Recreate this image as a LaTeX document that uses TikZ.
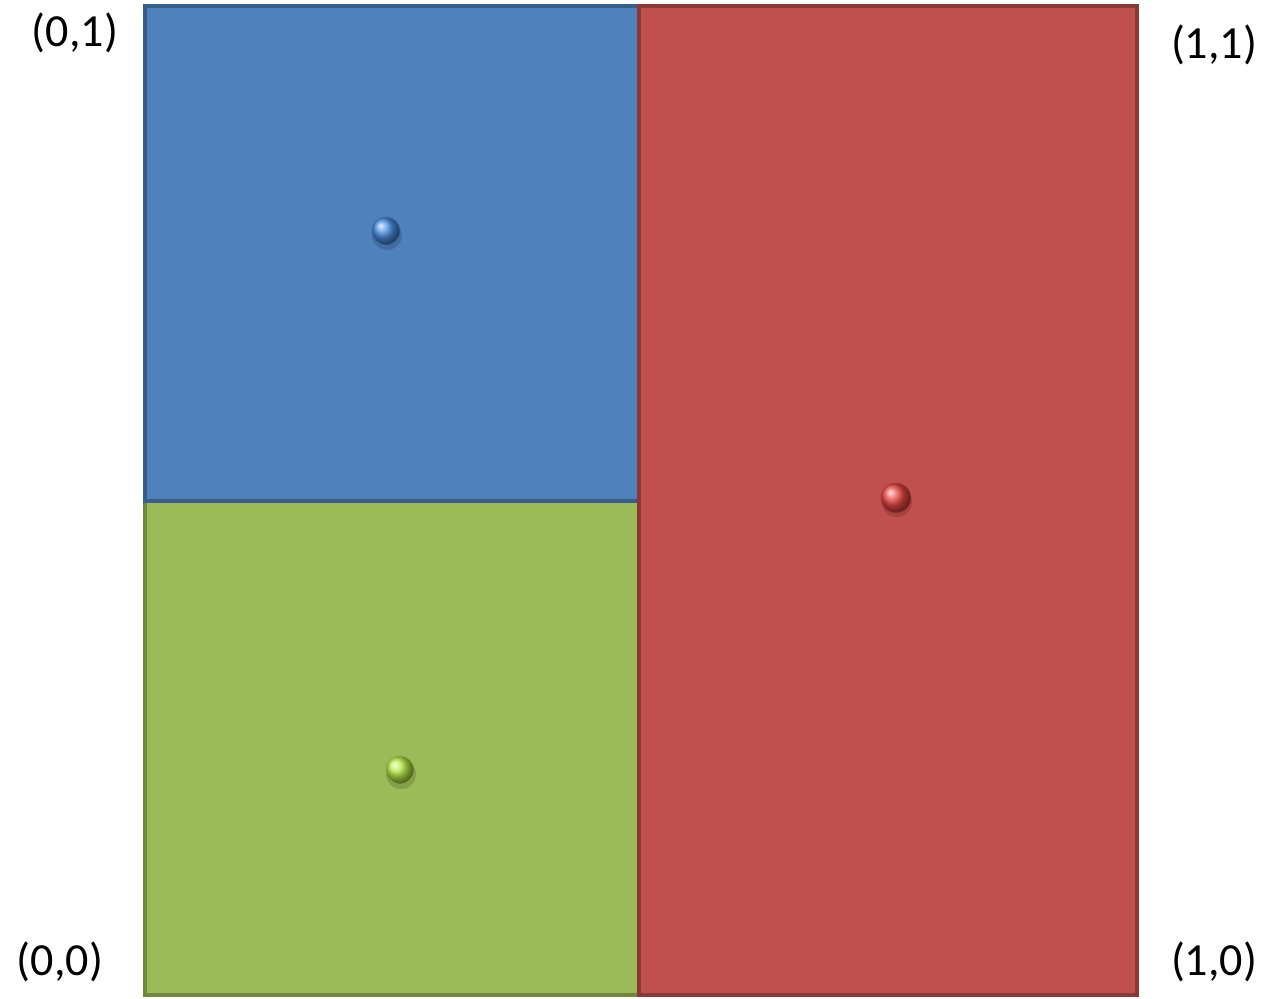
\documentclass[tikz,border=0pt]{standalone}
\usepackage{fontspec}
\setmainfont{Carlito}
\usetikzlibrary{shadings}
\definecolor{bluefill}{HTML}{4F81BD}
\definecolor{blueline}{HTML}{385D8A}
\definecolor{redfill}{HTML}{C0504D}
\definecolor{redline}{HTML}{8C3836}
\definecolor{greenfill}{HTML}{9BBB59}
\definecolor{greenline}{HTML}{71893F}
\definecolor{blueball}{HTML}{4C92E6}
\definecolor{redball}{HTML}{EE4A44}
\definecolor{greenball}{HTML}{B8EC48}
\begin{document}
\begin{tikzpicture}[x=0.5pt,y=-0.5pt,
  region/.style={draw=#1line, fill=#1fill, line width=2pt, inner sep=0pt, outer sep=0pt},
  lbl/.style={font=\fontsize{23}{27}\selectfont, inner sep=0pt, text=black},
  ballshadow/.style={circle, minimum size=15pt, inner sep=0pt, fill=black, fill opacity=0.15},
  ball/.style={circle, minimum size=14pt, inner sep=0pt, ball color=#1, draw=#1!75!black, line width=0.3pt}]
\useasboundingbox (0,0) rectangle (1270,998);
\node[region=green, minimum width=247pt, minimum height=247pt, anchor=north west] (green) at (145,501) {};
\node[region=blue, minimum width=247pt, minimum height=247.5pt, anchor=north west] (blue) at (145,6) {};
\node[region=red, minimum width=249pt, minimum height=494.5pt, anchor=north west] (red) at (639,6) {};
\node[ballshadow] (bs) at (387,235) {};
\node[ball=blueball] (bb) at (386,231) {};
\node[ballshadow] (rs) at (897,502) {};
\node[ball=redball, minimum size=15pt] (rb) at (896,498) {};
\node[ballshadow] (gs) at (401,774) {};
\node[ball=greenball] (gb) at (400,770) {};
\node[lbl] (l01) at (75,33) {(0,1)};
\node[lbl] (l11) at (1214,45) {(1,1)};
\node[lbl] (l00) at (60,962) {(0,0)};
\node[lbl] (l10) at (1214,962) {(1,0)};
\end{tikzpicture}
\end{document}
